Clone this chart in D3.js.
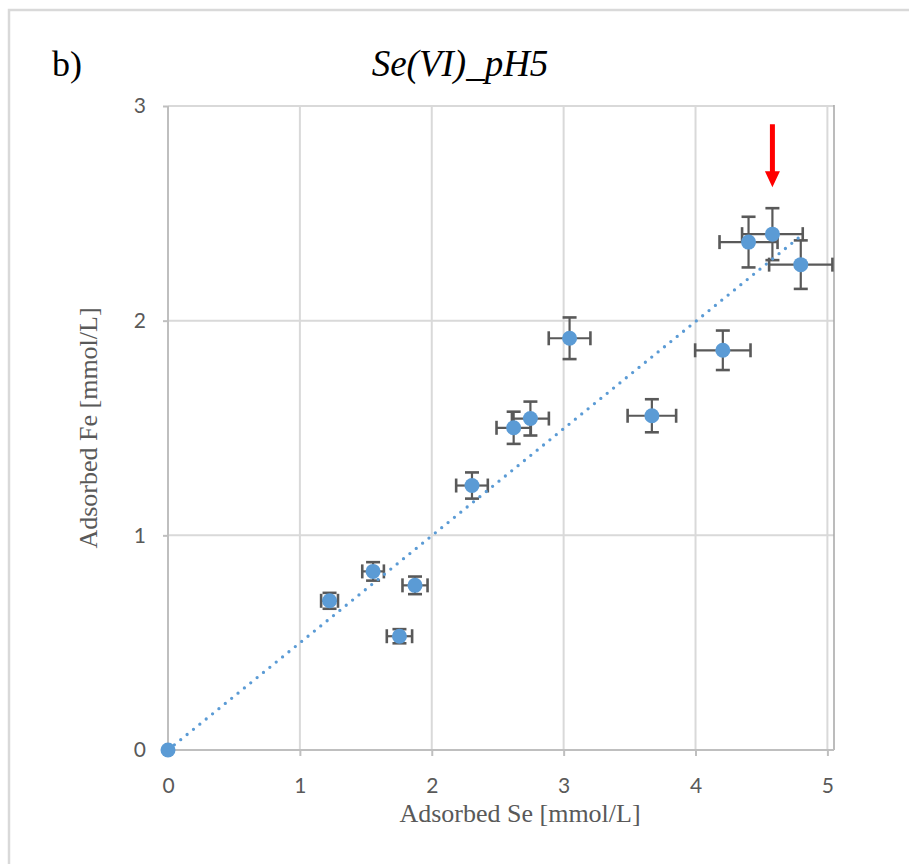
<!DOCTYPE html>
<html>
<head>
<meta charset="utf-8">
<script src="https://cdn.jsdelivr.net/npm/d3@7"></script>
<style>
  html, body { margin: 0; padding: 0; background: #fff; overflow: hidden; }
  svg { display: block; }
</style>
</head>
<body>
<div id="visualization"></div>
<script>
// adsorbed Se / Fe (mmol/L), with the error bar half widths
var seX   = [0, 1.225, 1.555, 1.755, 1.873, 2.305, 2.621, 2.748, 3.045, 3.669, 4.207, 4.402, 4.583, 4.798];
var feY   = [0, 0.695, 0.832, 0.530, 0.767, 1.232, 1.501, 1.544, 1.918, 1.557, 1.862, 2.366, 2.403, 2.261];
var seErr = [0, 0.064, 0.082, 0.096, 0.095, 0.120, 0.130, 0.140, 0.158, 0.184, 0.210, 0.220, 0.230, 0.240];
var feErr = [0, 0.037, 0.043, 0.033, 0.041, 0.061, 0.075, 0.079, 0.097, 0.077, 0.092, 0.118, 0.121, 0.113];

// linear trendline forced through the origin
var trendSlope = 0.499;

var xTicks = [0, 1, 2, 3, 4, 5];
var yTicks = [0, 1, 2, 3];
var xDomain = [0, 5.05];
var yDomain = [0, 3];

var panelLabel = "b)";
var chartTitle = "Se(VI)_pH5";
var xTitle = "Adsorbed Se [mmol/L]";
var yTitle = "Adsorbed Fe [mmol/L]";

// point marked with the red arrow
var markedIndex = 12;

var W = 909, H = 864;
var plot = {left: 168, right: 834, top: 106, bottom: 750};
var grey = "#595959";

var data = seX.map(function(d, i) {
    return {x: d, y: feY[i], ex: seErr[i], ey: feErr[i]};
});

var svg = d3.select("#visualization").append("svg")
    .attr("width", W)
    .attr("height", H);

// outer chart frame (runs off the right and bottom of the picture)
svg.append("rect")
    .attr("x", 9)
    .attr("y", 10)
    .attr("width", W + 20)
    .attr("height", H + 20)
    .attr("fill", "none")
    .attr("stroke", "#d9d9d9")
    .attr("stroke-width", 2.5);

var x = d3.scaleLinear().domain(xDomain).range([plot.left, plot.right]);
var y = d3.scaleLinear().domain(yDomain).range([plot.bottom, plot.top]);

// gridlines
svg.append("g").selectAll("line")
    .data(xTicks.slice(1))
  .enter().append("line")
    .attr("x1", function(d) { return x(d); })
    .attr("x2", function(d) { return x(d); })
    .attr("y1", plot.top)
    .attr("y2", plot.bottom)
    .attr("stroke", "#d9d9d9")
    .attr("stroke-width", 2);
svg.append("g").selectAll("line")
    .data(yTicks.slice(1))
  .enter().append("line")
    .attr("x1", plot.left)
    .attr("x2", plot.right)
    .attr("y1", function(d) { return y(d); })
    .attr("y2", function(d) { return y(d); })
    .attr("stroke", "#d9d9d9")
    .attr("stroke-width", 2);

// right edge of the plot area
svg.append("line")
    .attr("x1", plot.right).attr("x2", plot.right)
    .attr("y1", plot.top - 1).attr("y2", plot.bottom)
    .attr("stroke", "#a6a6a6")
    .attr("stroke-width", 1.5);

// axes
var xAxis = svg.append("g")
    .attr("transform", "translate(0," + plot.bottom + ")")
    .call(d3.axisBottom(x).tickValues(xTicks).tickSize(6).tickPadding(22).tickFormat(d3.format("d")));
var yAxis = svg.append("g")
    .attr("transform", "translate(" + plot.left + ",0)")
    .call(d3.axisLeft(y).tickValues(yTicks).tickSize(5).tickPadding(17).tickFormat(d3.format("d")));

[xAxis, yAxis].forEach(function(ax) {
    ax.select(".domain").attr("stroke", "#bfbfbf").attr("stroke-width", 2);
    ax.selectAll(".tick line").attr("stroke", "#bfbfbf").attr("stroke-width", 2);
    ax.selectAll(".tick text")
        .attr("fill", grey)
        .style("font-family", "Lato, 'Open Sans', sans-serif")
        .style("font-size", "21px");
});
xAxis.select(".domain").attr("d", "M" + plot.left + ",0H" + plot.right);
yAxis.select(".domain").attr("d", "M0," + plot.top + "V" + plot.bottom);

// error bars
var capHalf = 7;
var bars = svg.append("g")
    .attr("stroke", grey)
    .attr("stroke-width", 2.2)
    .selectAll("g")
    .data(data.filter(function(d) { return d.ex > 0 || d.ey > 0; }))
  .enter().append("g");

bars.append("line")
    .attr("x1", function(d) { return x(d.x - d.ex); })
    .attr("x2", function(d) { return x(d.x + d.ex); })
    .attr("y1", function(d) { return y(d.y); })
    .attr("y2", function(d) { return y(d.y); });
bars.append("line")
    .attr("x1", function(d) { return x(d.x); })
    .attr("x2", function(d) { return x(d.x); })
    .attr("y1", function(d) { return y(d.y - d.ey); })
    .attr("y2", function(d) { return y(d.y + d.ey); });
[-1, 1].forEach(function(s) {
    // caps on the x error bar
    bars.append("line")
        .attr("x1", function(d) { return x(d.x + s * d.ex); })
        .attr("x2", function(d) { return x(d.x + s * d.ex); })
        .attr("y1", function(d) { return y(d.y) - capHalf; })
        .attr("y2", function(d) { return y(d.y) + capHalf; })
        .attr("stroke-width", 2.6);
    // caps on the y error bar
    bars.append("line")
        .attr("x1", function(d) { return x(d.x) - capHalf; })
        .attr("x2", function(d) { return x(d.x) + capHalf; })
        .attr("y1", function(d) { return y(d.y + s * d.ey); })
        .attr("y2", function(d) { return y(d.y + s * d.ey); })
        .attr("stroke-width", 2.6);
});

// markers
svg.append("g").selectAll("circle")
    .data(data)
  .enter().append("circle")
    .attr("cx", function(d) { return x(d.x); })
    .attr("cy", function(d) { return y(d.y); })
    .attr("r", 7.5)
    .attr("fill", "#5b9bd5");

// dotted trendline
var xMax = d3.max(seX);
svg.append("line")
    .attr("x1", x(0))
    .attr("y1", y(0))
    .attr("x2", x(xMax))
    .attr("y2", y(trendSlope * xMax))
    .attr("stroke", "#5b9bd5")
    .attr("stroke-width", 3.3)
    .attr("stroke-linecap", "round")
    .attr("stroke-dasharray", "0 8.2");

// red arrow pointing down at the marked point
var ax = x(seX[markedIndex]),
    tipY = y(feY[markedIndex]) - 47;
svg.append("path")
    .attr("d", "M" + (ax - 2.5) + "," + (tipY - 63) +
               "L" + (ax + 2.5) + "," + (tipY - 63) +
               "L" + (ax + 2.5) + "," + (tipY - 16) +
               "L" + (ax + 7.5) + "," + (tipY - 16) +
               "L" + ax + "," + tipY +
               "L" + (ax - 7.5) + "," + (tipY - 16) +
               "L" + (ax - 2.5) + "," + (tipY - 16) + "Z")
    .attr("fill", "#ff0000");

// titles
svg.append("text")
    .attr("x", 52)
    .attr("y", 76)
    .style("font-family", "'Liberation Serif', 'Times New Roman', serif")
    .style("font-size", "36px")
    .attr("fill", "#000")
    .text(panelLabel);
svg.append("text")
    .attr("x", 460)
    .attr("y", 76)
    .attr("text-anchor", "middle")
    .style("font-family", "'Liberation Serif', 'Times New Roman', serif")
    .style("font-style", "italic")
    .style("font-size", "37px")
    .attr("fill", "#000")
    .text(chartTitle);
svg.append("text")
    .attr("text-anchor", "middle")
    .attr("x", 520)
    .attr("y", 822)
    .style("font-family", "'Liberation Serif', 'Times New Roman', serif")
    .style("font-size", "26px")
    .attr("fill", grey)
    .text(xTitle);
svg.append("text")
    .attr("text-anchor", "middle")
    .attr("transform", "translate(97," + ((plot.top + plot.bottom) / 2) + ")rotate(-90)")
    .style("font-family", "'Liberation Serif', 'Times New Roman', serif")
    .style("font-size", "26px")
    .attr("fill", grey)
    .text(yTitle);
</script>
</body>
</html>
